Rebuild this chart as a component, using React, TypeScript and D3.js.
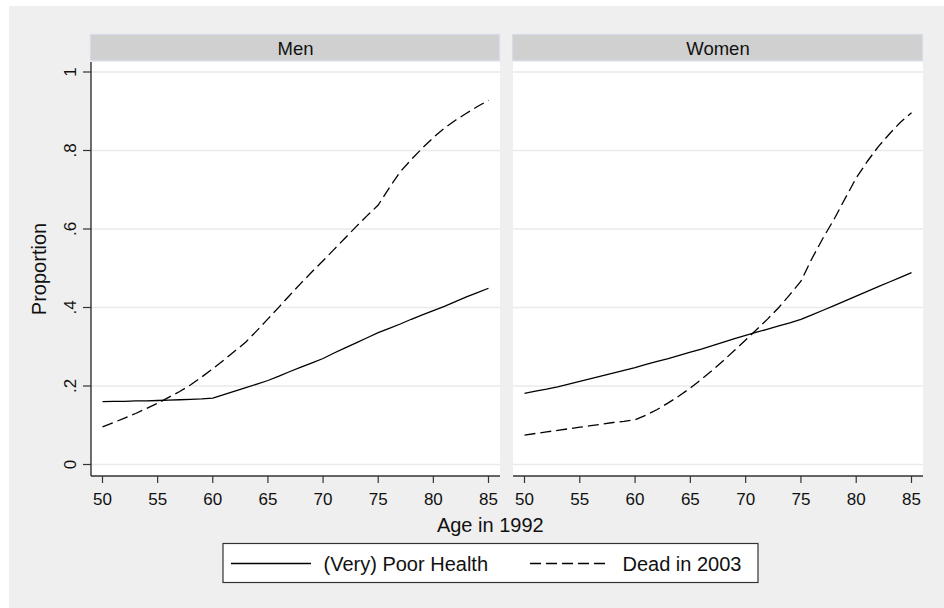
import { useRef, useEffect } from "react";
import * as d3 from "d3";

// ages 50..85, one value per year
const ages = d3.range(50, 86);

const menPoorHealth = [
  0.16, 0.161, 0.161, 0.162, 0.162, 0.163, 0.164, 0.165, 0.166, 0.167, 0.169,
  0.178, 0.187, 0.196, 0.205, 0.214, 0.225, 0.237, 0.248, 0.259, 0.27,
  0.284, 0.297, 0.31, 0.323, 0.336, 0.347, 0.358, 0.37, 0.381, 0.392,
  0.403, 0.415, 0.427, 0.438, 0.449,
];
const menDead = [
  0.096, 0.107, 0.118, 0.13, 0.143, 0.156, 0.171, 0.186, 0.203, 0.223, 0.244,
  0.266, 0.289, 0.312, 0.341, 0.371, 0.401, 0.432, 0.462, 0.491, 0.519,
  0.548, 0.577, 0.606, 0.634, 0.661, 0.705, 0.746, 0.777, 0.806, 0.833,
  0.857, 0.877, 0.895, 0.912, 0.928,
];
const womenPoorHealth = [
  0.181, 0.187, 0.192, 0.198, 0.205, 0.212, 0.219, 0.226, 0.233, 0.24, 0.247,
  0.255, 0.263, 0.27, 0.278, 0.286, 0.294, 0.303, 0.312, 0.321, 0.329,
  0.337, 0.345, 0.353, 0.361, 0.37, 0.381, 0.393, 0.405, 0.417, 0.429,
  0.441, 0.453, 0.465, 0.477, 0.489,
];
const womenDead = [
  0.075, 0.079, 0.083, 0.087, 0.091, 0.095, 0.099, 0.103, 0.107, 0.11, 0.114,
  0.126, 0.14, 0.157, 0.175, 0.195, 0.217, 0.24, 0.265, 0.291, 0.317,
  0.344, 0.371, 0.4, 0.433, 0.467, 0.525, 0.577, 0.625, 0.678, 0.73,
  0.772, 0.81, 0.842, 0.872, 0.896,
];

const panels = ["Men", "Women"];
const xTicks = [50, 55, 60, 65, 70, 75, 80, 85];
const yTicks = [0, 0.2, 0.4, 0.6, 0.8, 1];
const yTickLabels = ["0", ".2", ".4", ".6", ".8", "1"];
const seriesNames = ["(Very) Poor Health", "Dead in 2003"];

const W = 944;
const H = 608;
const FONT = "'Liberation Sans', Arial, sans-serif";

export default function App() {
  const svgRef = useRef<SVGSVGElement>(null);

  useEffect(() => {
    if (!svgRef.current) return;
    const svg = d3.select(svgRef.current);
    svg.selectAll("*").remove();

    // outer background
    svg.append("rect").attr("width", W).attr("height", H).attr("fill", "#ffffff");
    svg
      .append("rect")
      .attr("x", 9)
      .attr("y", 6)
      .attr("width", W - 9)
      .attr("height", H - 6)
      .attr("fill", "#efefef");

    const plotTop = 62;
    const plotBottom = 476;
    const y = d3.scaleLinear().domain([0, 1]).range([464.5, 72]);

    const panelX = [
      [91, 500],
      [513, 923],
    ];
    const pad = 11.5;
    const data = [
      [menPoorHealth, menDead],
      [womenPoorHealth, womenDead],
    ];

    panels.forEach((name, p) => {
      const [x0, x1] = panelX[p];
      const x = d3.scaleLinear().domain([50, 85]).range([x0 + pad, x1 - pad]);
      const g = svg.append("g");

      // header strip
      g.append("rect")
        .attr("x", x0 - 0.5)
        .attr("y", 34.5)
        .attr("width", x1 - x0)
        .attr("height", 26)
        .attr("fill", "#d0d0d0")
        .attr("stroke", "#d8dcea")
        .attr("stroke-width", 1.2);
      g.append("text")
        .attr("x", (x0 + x1) / 2)
        .attr("y", 54.5)
        .attr("text-anchor", "middle")
        .attr("font-family", FONT)
        .attr("font-size", 18.5)
        .attr("fill", "#111")
        .text(name);

      // plot area
      g.append("rect")
        .attr("x", x0)
        .attr("y", plotTop)
        .attr("width", x1 - x0)
        .attr("height", plotBottom - plotTop)
        .attr("fill", "#ffffff");

      // grid
      g.selectAll(".grid")
        .data(yTicks)
        .join("line")
        .attr("x1", x0)
        .attr("x2", x1)
        .attr("y1", (d) => y(d))
        .attr("y2", (d) => y(d))
        .attr("stroke", "#eaeaea")
        .attr("stroke-width", 1.5);

      // lines
      const line = d3
        .line<number>()
        .x((_, i) => x(ages[i]))
        .y((d) => y(d));
      data[p].forEach((vals, s) => {
        g.append("path")
          .datum(vals)
          .attr("d", line)
          .attr("fill", "none")
          .attr("stroke", "#000")
          .attr("stroke-width", 1.3)
          .attr("stroke-dasharray", s === 1 ? "11 5" : null);
      });

      // x axis
      g.append("line")
        .attr("x1", x0)
        .attr("x2", x1)
        .attr("y1", plotBottom)
        .attr("y2", plotBottom)
        .attr("stroke", "#333")
        .attr("stroke-width", 1.4);
      xTicks.forEach((t) => {
        g.append("line")
          .attr("x1", x(t))
          .attr("x2", x(t))
          .attr("y1", plotBottom)
          .attr("y2", plotBottom + 7)
          .attr("stroke", "#333")
          .attr("stroke-width", 1.2);
        g.append("text")
          .attr("x", x(t))
          .attr("y", 505)
          .attr("text-anchor", "middle")
          .attr("font-family", FONT)
          .attr("font-size", 17)
          .attr("fill", "#111")
          .text(t);
      });

      // y axis only on first panel
      if (p === 0) {
        g.append("line")
          .attr("x1", x0)
          .attr("x2", x0)
          .attr("y1", plotTop)
          .attr("y2", plotBottom)
          .attr("stroke", "#333")
          .attr("stroke-width", 1.4);
        yTicks.forEach((t, i) => {
          g.append("line")
            .attr("x1", x0 - 8)
            .attr("x2", x0)
            .attr("y1", y(t))
            .attr("y2", y(t))
            .attr("stroke", "#333")
            .attr("stroke-width", 1.2);
          g.append("text")
            .attr("transform", `translate(76,${y(t)}) rotate(-90)`)
            .attr("text-anchor", "middle")
            .attr("font-family", FONT)
            .attr("font-size", 17)
            .attr("fill", "#111")
            .text(yTickLabels[i]);
        });
      }
    });

    // axis titles
    svg
      .append("text")
      .attr("transform", `translate(46,269) rotate(-90)`)
      .attr("text-anchor", "middle")
      .attr("font-family", FONT)
      .attr("font-size", 20)
      .attr("fill", "#111")
      .text("Proportion");
    svg
      .append("text")
      .attr("x", 490.3)
      .attr("y", 531.5)
      .attr("text-anchor", "middle")
      .attr("font-family", FONT)
      .attr("font-size", 20)
      .attr("fill", "#111")
      .text("Age in 1992");

    // legend
    const lg = svg.append("g");
    lg.append("rect")
      .attr("x", 223)
      .attr("y", 543.5)
      .attr("width", 535)
      .attr("height", 39)
      .attr("fill", "#ffffff")
      .attr("stroke", "#333")
      .attr("stroke-width", 1.2);
    const legendX = [231, 530];
    seriesNames.forEach((nm, s) => {
      lg.append("line")
        .attr("x1", legendX[s])
        .attr("x2", legendX[s] + 80)
        .attr("y1", 563.5)
        .attr("y2", 563.5)
        .attr("stroke", "#000")
        .attr("stroke-width", 1.3)
        .attr("stroke-dasharray", s === 1 ? "11 5" : null);
      lg.append("text")
        .attr("x", legendX[s] + 92.5)
        .attr("y", 571)
        .attr("font-family", FONT)
        .attr("font-size", 20)
        .attr("fill", "#111")
        .text(nm);
    });
  }, []);

  return (
    <div style={{ position: "fixed", left: 0, top: 0, width: W, height: H }}>
      <svg ref={svgRef} width={W} height={H} style={{ display: "block" }} />
    </div>
  );
}
